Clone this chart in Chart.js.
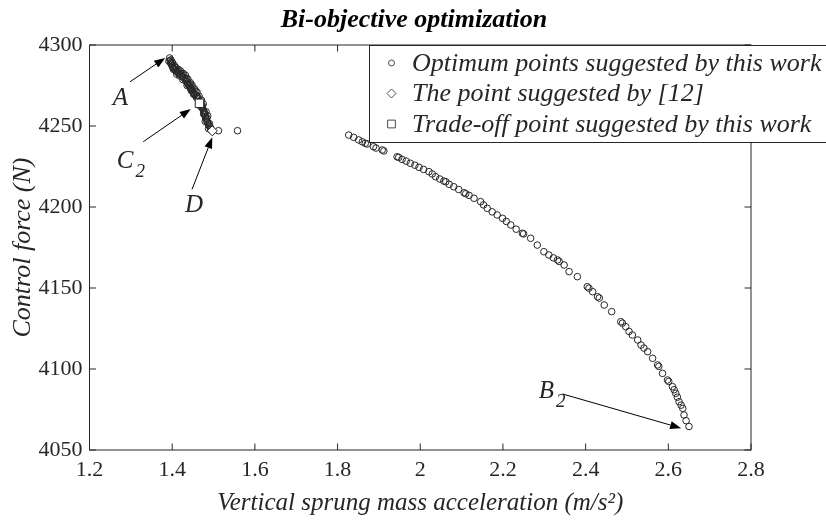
<!DOCTYPE html>
<html>
<head>
<meta charset="utf-8">
<script src="https://cdn.jsdelivr.net/npm/chart.js@4/dist/chart.umd.min.js"></script>
<style>
  html, body { margin: 0; padding: 0; background: #fff; }
  #c { display: block; }
</style>
</head>
<body>
<canvas id="c" width="826" height="521"></canvas>
<script>
// Datos
const optX = [
  1.394, 1.395, 1.396, 1.398, 1.400, 1.402, 1.404, 1.407, 1.410, 1.413, 1.416, 1.419,
  1.422, 1.425, 1.428, 1.431, 1.433, 1.435, 1.437, 1.439, 1.441, 1.443, 1.445, 1.447,
  1.449, 1.451, 1.453, 1.455, 1.458, 1.461, 1.463, 1.468, 1.470, 1.472, 1.474,
  1.476, 1.477, 1.478, 1.480, 1.481, 1.483, 1.485, 1.487, 1.489, 1.491, 1.493,
  1.399, 1.406, 1.414, 1.424, 1.434, 1.442, 1.450, 1.457, 1.473, 1.479, 1.484, 1.490,
  1.397, 1.401, 1.405, 1.409, 1.415, 1.420, 1.427, 1.432, 1.438, 1.444, 1.448, 1.454,
  1.460, 1.465, 1.471, 1.475, 1.482, 1.486, 1.392, 1.403, 1.411, 1.418, 1.426, 1.436,
  1.446, 1.452, 1.459, 1.469, 1.476, 1.480, 1.488, 1.494,
  1.512, 1.558,
  1.827, 1.839, 1.851, 1.860, 1.867, 1.872, 1.887, 1.893, 1.908, 1.912, 1.944, 1.948,
  1.956, 1.966, 1.976, 1.987, 1.997, 2.008, 2.021, 2.029, 2.037, 2.047, 2.057, 2.062,
  2.070, 2.081, 2.093, 2.106, 2.110, 2.118, 2.130, 2.146, 2.153, 2.162, 2.174, 2.186,
  2.199, 2.208, 2.219, 2.232, 2.247, 2.250, 2.267, 2.283, 2.299, 2.311, 2.322, 2.332,
  2.336, 2.348, 2.360, 2.380, 2.404, 2.408, 2.417, 2.429, 2.433, 2.445, 2.463, 2.485,
  2.489, 2.497, 2.505, 2.513, 2.526, 2.534, 2.541, 2.550, 2.562, 2.574, 2.577, 2.586,
  2.598, 2.601, 2.610, 2.614, 2.618, 2.622, 2.626, 2.631, 2.635, 2.638, 2.643, 2.650
];
const optY = [
  4292.0, 4290.5, 4289.0, 4288.0, 4287.0, 4286.2, 4285.5, 4284.6, 4283.8, 4283.1, 4282.6, 4282.2,
  4281.3, 4280.5, 4279.8, 4279.1, 4278.2, 4277.3, 4276.4, 4275.6, 4274.8, 4274.0, 4273.2, 4272.4,
  4271.6, 4270.8, 4270.0, 4269.3, 4268.6, 4268.0, 4267.3, 4264.6, 4263.0, 4261.6, 4260.5,
  4259.5, 4258.2, 4257.0, 4256.0, 4254.8, 4253.6, 4252.5, 4251.4, 4250.4, 4249.5, 4248.8,
  4289.5, 4286.5, 4284.0, 4282.5, 4279.5, 4276.0, 4273.5, 4271.5, 4262.5, 4258.0, 4255.0, 4251.5,
  4290.8, 4288.9, 4287.4, 4286.0, 4284.9, 4284.0, 4282.4, 4281.3, 4278.9, 4276.7, 4275.2, 4272.9,
  4270.9, 4268.4, 4265.9, 4263.6, 4258.8, 4256.3, 4290.0, 4285.0, 4282.0, 4280.9, 4278.6, 4275.0,
  4272.0, 4269.5, 4267.5, 4262.0, 4257.5, 4252.8, 4248.4, 4247.6,
  4247.1, 4247.1,
  4244.4, 4243.0, 4241.4, 4240.2, 4239.3, 4238.9, 4237.2, 4236.4, 4235.2, 4234.6, 4231.0, 4230.6,
  4229.4, 4228.3, 4227.0, 4225.8, 4224.5, 4223.2, 4221.8, 4220.4, 4218.7, 4217.3, 4216.0, 4215.6,
  4214.0, 4212.5, 4210.8, 4208.8, 4208.2, 4207.2, 4205.4, 4203.3, 4201.3, 4199.2, 4197.0, 4195.1,
  4193.0, 4191.1, 4188.9, 4186.3, 4183.8, 4183.4, 4180.7, 4176.5, 4172.4, 4170.4, 4168.6, 4167.3,
  4166.4, 4164.2, 4160.1, 4157.0, 4150.8, 4149.9, 4147.7, 4144.6, 4143.8, 4139.5, 4135.4, 4129.2,
  4128.3, 4126.1, 4123.2, 4121.0, 4117.9, 4114.8, 4112.9, 4110.7, 4106.6, 4102.5, 4101.6, 4097.3,
  4093.2, 4092.3, 4089.1, 4087.2, 4085.0, 4082.6, 4079.8, 4077.7, 4075.7, 4071.6, 4068.1, 4064.5
];
const ref12X = [1.497];
const ref12Y = [4247.0];
const tradeX = [1.466];
const tradeY = [4264.0];

const xTicks = [1.2, 1.4, 1.6, 1.8, 2.0, 2.2, 2.4, 2.6, 2.8];
const yTicks = [4050, 4100, 4150, 4200, 4250, 4300];

const chartTitle = 'Bi-objective optimization';
const xTitle = 'Vertical sprung mass acceleration (m/s²)';
const yTitle = 'Control force (N)';
const legendLabels = [
  'Optimum points suggested by this work',
  'The point suggested by [12]',
  'Trade-off point suggested by this work'
];

// Anotaciones (flecha desde -> hasta, en unidades de datos)
const notes = [
  { text: 'A', sub: '', at: [1.275, 4267.0], from: [1.298, 4277.3], to: [1.383, 4292.0] },
  { text: 'C', sub: '2', at: [1.286, 4228.1], from: [1.330, 4240.3], to: [1.445, 4260.5] },
  { text: 'D', sub: '', at: [1.453, 4200.9], from: [1.448, 4210.9], to: [1.497, 4243.0] },
  { text: 'B', sub: '2', at: [2.305, 4086.4], from: [2.344, 4084.6], to: [2.631, 4063.5] }
];

const INK = '#262626';
const SERIF = '"Liberation Serif", "Times New Roman", serif';

const toPts = (xs, ys) => xs.map((x, i) => ({ x, y: ys[i] }));

function arrow(ctx, x1, y1, x2, y2) {
  const ang = Math.atan2(y2 - y1, x2 - x1);
  const L = 11, W = 4;
  ctx.beginPath();
  ctx.moveTo(x1, y1);
  ctx.lineTo(x2 - L * Math.cos(ang), y2 - L * Math.sin(ang));
  ctx.stroke();
  ctx.beginPath();
  ctx.moveTo(x2, y2);
  ctx.lineTo(x2 - L * Math.cos(ang) + W * Math.sin(ang), y2 - L * Math.sin(ang) - W * Math.cos(ang));
  ctx.lineTo(x2 - L * Math.cos(ang) - W * Math.sin(ang), y2 - L * Math.sin(ang) + W * Math.cos(ang));
  ctx.closePath();
  ctx.fill();
}

const framePlugin = {
  id: 'frame',
  afterDatasetsDraw(chart) {
    const { ctx, chartArea: a, scales: { x, y } } = chart;
    ctx.save();
    ctx.strokeStyle = INK;
    ctx.lineWidth = 1;
    ctx.strokeRect(a.left, a.top, a.right - a.left, a.bottom - a.top);
    const tl = 6.5;
    ctx.beginPath();
    xTicks.forEach(v => {
      const px = x.getPixelForValue(v);
      ctx.moveTo(px, a.bottom); ctx.lineTo(px, a.bottom - tl);
      ctx.moveTo(px, a.top); ctx.lineTo(px, a.top + tl);
    });
    yTicks.forEach(v => {
      const py = y.getPixelForValue(v);
      ctx.moveTo(a.left, py); ctx.lineTo(a.left + tl, py);
      ctx.moveTo(a.right, py); ctx.lineTo(a.right - tl, py);
    });
    ctx.stroke();

    // Flechas y etiquetas
    ctx.strokeStyle = '#000';
    ctx.lineWidth = 1;
    notes.forEach(n => {
      ctx.fillStyle = '#000';
      arrow(ctx, x.getPixelForValue(n.from[0]), y.getPixelForValue(n.from[1]),
        x.getPixelForValue(n.to[0]), y.getPixelForValue(n.to[1]));
      const lx = x.getPixelForValue(n.at[0]);
      const ly = y.getPixelForValue(n.at[1]);
      ctx.fillStyle = INK;
      ctx.font = 'italic 25px ' + SERIF;
      ctx.textAlign = 'center';
      ctx.textBaseline = 'middle';
      ctx.fillText(n.text, lx, ly);
      if (n.sub) {
        const w = ctx.measureText(n.text).width;
        ctx.font = 'italic 19px ' + SERIF;
        ctx.textAlign = 'left';
        ctx.fillText(n.sub, lx + w / 2 + 2, ly + 11);
      }
    });

    // Leyenda
    const lx0 = 369, ly0 = a.top, lh = 97;
    ctx.fillStyle = '#fff';
    ctx.fillRect(lx0, ly0, chart.width - lx0 + 5, lh);
    ctx.strokeStyle = INK;
    ctx.lineWidth = 1;
    ctx.strokeRect(lx0 + 0.5, ly0 + 0.5, chart.width - lx0 + 5, lh);
    const rows = [63, 93.5, 124];
    const styles = ['circle', 'rectRot', 'rect'];
    const radii = [3, 4.5, 5.5];
    rows.forEach((ry, i) => {
      ctx.fillStyle = '#fff';
      ctx.strokeStyle = '#3a3a3a';
      ctx.lineWidth = 0.9;
      Chart.helpers.drawPoint(ctx, { pointStyle: styles[i], radius: radii[i], borderWidth: 0.9 }, 391.5, ry);
      ctx.fillStyle = INK;
      ctx.font = 'italic 26px ' + SERIF;
      ctx.textAlign = 'left';
      ctx.textBaseline = 'middle';
      ctx.fillText(legendLabels[i], 412, ry + 1);
    });

    // Título
    ctx.font = 'italic bold 26px ' + SERIF;
    ctx.fillStyle = '#000';
    ctx.textAlign = 'center';
    ctx.textBaseline = 'middle';
    ctx.fillText(chartTitle, 414, 20);
    ctx.restore();
  }
};

new Chart(document.getElementById('c'), {
  type: 'scatter',
  data: {
    datasets: [
      {
        label: legendLabels[0],
        data: toPts(optX, optY),
        order: 3,
        pointStyle: 'circle',
        pointRadius: 3.3,
        borderWidth: 1,
        borderColor: '#262626',
        backgroundColor: 'rgba(0,0,0,0)'
      },
      {
        label: legendLabels[1],
        data: toPts(ref12X, ref12Y),
        order: 1,
        pointStyle: 'rectRot',
        pointRadius: 5,
        borderWidth: 1,
        borderColor: '#222',
        backgroundColor: '#fff'
      },
      {
        label: legendLabels[2],
        data: toPts(tradeX, tradeY),
        order: 2,
        pointStyle: 'rect',
        pointRadius: 6,
        borderWidth: 1,
        borderColor: '#222',
        backgroundColor: '#fff'
      }
    ]
  },
  options: {
    responsive: false,
    animation: false,
    layout: { padding: { top: 45, right: 75, left: 0, bottom: 0 } },
    plugins: { legend: { display: false }, tooltip: { enabled: false } },
    scales: {
      x: {
        type: 'linear', min: 1.2, max: 2.8,
        afterBuildTicks: s => { s.ticks = xTicks.map(v => ({ value: v })); },
        afterFit: s => { s.height = 71; },
        grid: { display: false, drawTicks: false },
        border: { display: false },
        ticks: {
          color: INK, padding: 7, maxRotation: 0, autoSkip: false,
          font: { family: SERIF, size: 22 },
          callback: v => String(+v.toFixed(1))
        },
        title: {
          display: true, text: xTitle, color: INK,
          font: { family: SERIF, size: 25, style: 'italic' },
          padding: { top: 0, bottom: 3 }
        }
      },
      y: {
        type: 'linear', min: 4050, max: 4300,
        afterBuildTicks: s => { s.ticks = yTicks.map(v => ({ value: v })); },
        afterFit: s => { s.width = 89.5; },
        grid: { display: false, drawTicks: false },
        border: { display: false },
        ticks: {
          color: INK, padding: 7, autoSkip: false,
          font: { family: SERIF, size: 22 },
          callback: v => String(v)
        },
        title: {
          display: true, text: yTitle, color: INK,
          font: { family: SERIF, size: 26, style: 'italic' },
          padding: { top: 8, bottom: 0 }
        }
      }
    }
  },
  plugins: [framePlugin]
});
</script>
</body>
</html>
